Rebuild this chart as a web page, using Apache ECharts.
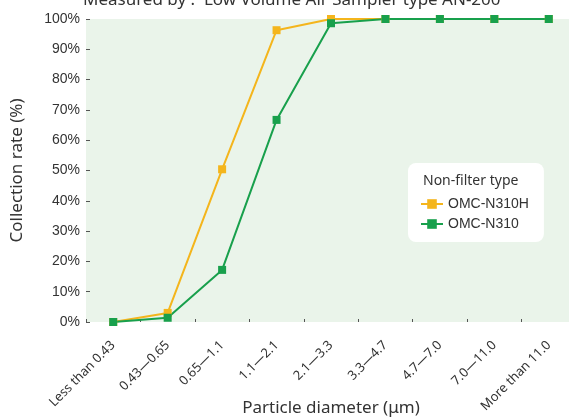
<!DOCTYPE html>
<html>
<head>
<meta charset="utf-8">
<script src="https://cdn.jsdelivr.net/npm/echarts@6/dist/echarts.min.js"></script>
<style>
html,body{margin:0;padding:0;background:#fff;}
#chart{width:569px;height:419px;}
</style>
</head>
<body>
<div id="chart"></div>
<script>
const categories = ['Less than 0.43','0.43\u20140.65','0.65\u20141.1','1.1\u20142.1','2.1\u20143.3','3.3\u20144.7','4.7\u20147.0','7.0\u201411.0','More than 11.0'];
const seriesH = [0, 3.0, 50.4, 96.3, 100, 100, 100, 100, 100];
const seriesN = [0, 1.4, 17.2, 66.7, 98.6, 100, 100, 100, 100];
const yTicks = [0,10,20,30,40,50,60,70,80,90,100];

const chart = echarts.init(document.getElementById('chart'));
const font = 'Noto Sans';
const sans = 'Liberation Sans';
chart.setOption({
  animation: false,
  textStyle: {fontFamily: font},
  title: {
    text: 'Measured by :  Low Volume Air Sampler type AN-200',
    left: 78, top: -13,
    textStyle: {fontFamily: font, fontSize: 17, fontWeight: 'normal', color: '#333'}
  },
  grid: {
    left: 86, top: 19, bottom: 97, width: 490,
    containLabel: false, outerBoundsMode: 'none',
    show: true, backgroundColor: '#eaf4ea', borderWidth: 0
  },
  graphic: [{
    type: 'text', left: 423, top: 174, z: 100,
    style: {text: 'Non-filter type', font: '14px "Noto Sans"', fill: '#333'}
  }],
  legend: {
    orient: 'vertical', left: 408, top: 163,
    padding: [34, 15, 11, 12], itemGap: 6,
    itemWidth: 22, itemHeight: 12,
    backgroundColor: '#fff', borderRadius: 8,
    textStyle: {fontFamily: sans, fontSize: 14, color: '#333'},
    data: ['OMC-N310H','OMC-N310']
  },
  xAxis: {
    type: 'category', data: categories,
    name: 'Particle diameter (\u03bcm)', nameLocation: 'middle', nameGap: 78,
    nameMoveOverlap: false,
    nameTextStyle: {fontSize: 17, color: '#333'},
    axisLine: {show: false},
    axisTick: {show: true, inside: true, length: 3, lineStyle: {color: '#555'}},
    axisLabel: {rotate: 45, fontSize: 13, color: '#333', margin: 21}
  },
  yAxis: {
    type: 'value', min: 0, max: 100, interval: 10,
    name: 'Collection rate (%)', nameLocation: 'middle', nameGap: 60,
    nameMoveOverlap: false,
    nameTextStyle: {fontSize: 17, color: '#333'},
    axisLine: {show: false},
    axisTick: {show: true, inside: true, length: 4, lineStyle: {color: '#555'}},
    splitLine: {show: false},
    axisLabel: {fontFamily: sans, fontSize: 14, color: '#333', margin: 6,
      formatter: v => yTicks.includes(v) ? v + '%' : ''}
  },
  series: [
    {name: 'OMC-N310H', type: 'line', data: seriesH, symbol: 'rect', symbolSize: 8,
     color: '#f4b51c', lineStyle: {width: 2}},
    {name: 'OMC-N310', type: 'line', data: seriesN, symbol: 'rect', symbolSize: 8,
     color: '#18a04c', lineStyle: {width: 2}}
  ]
});
</script>
</body>
</html>
